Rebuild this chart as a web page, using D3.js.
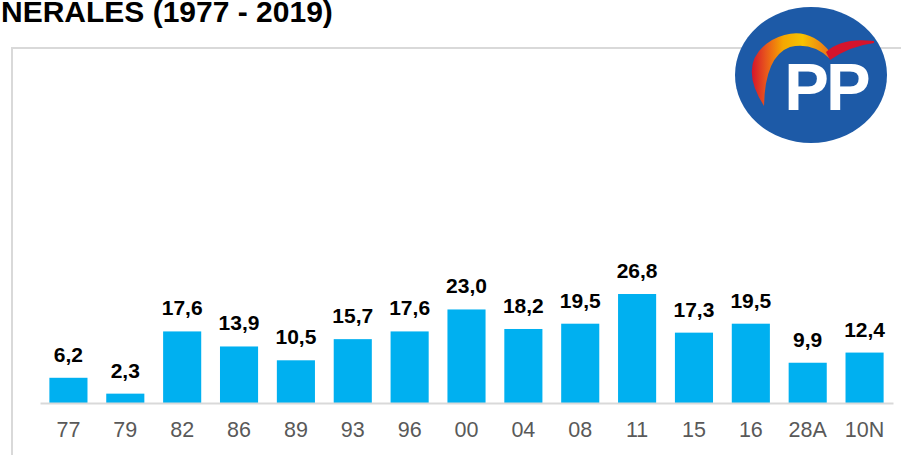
<!DOCTYPE html>
<html>
<head>
<meta charset="utf-8">
<script src="https://cdn.jsdelivr.net/npm/d3@7"></script>
<style>
  body { margin: 0; background: #fff; }
  svg { display: block; font-family: "Liberation Sans", Arial, sans-serif; }
</style>
</head>
<body>
<div class="canvas"></div>
<script>
// election years (general elections) and PP results
const years = ['77', '79', '82', '86', '89', '93', '96', '00', '04', '08', '11', '15', '16', '28A', '10N'];
const values = [6.2, 2.3, 17.6, 13.9, 10.5, 15.7, 17.6, 23.0, 18.2, 19.5, 26.8, 17.3, 19.5, 9.9, 12.4];

const dims = { width: 901, height: 455 };

const svg = d3.select('.canvas')
    .append('svg')
    .attr('width', dims.width)
    .attr('height', dims.height);

// title, starts at the left edge like the original slide
svg.append('text')
    .attr('x', 1)
    .attr('y', 22)
    .attr('font-size', '30px')
    .attr('font-weight', 'bold')
    .attr('fill', '#000')
    .text('NERALES (1977 - 2019)');

// chart frame
svg.append('rect')
    .attr('x', 12)
    .attr('y', 48)
    .attr('width', 950)
    .attr('height', 450)
    .attr('fill', 'none')
    .attr('stroke', '#d9d9d9')
    .attr('stroke-width', 2);

const x = d3.scaleBand()
    .domain(years)
    .range([40, 893])
    .paddingInner(0.33)
    .paddingOuter(0.165);

const y = d3.scaleLinear()
    .domain([0, 30])
    .range([403, 281]);

const fmt = v => d3.format('.1f')(v).replace('.', ',');

const data = years.map((yr, i) => ({ year: yr, value: values[i] }));

// bars
svg.append('g')
    .selectAll('rect')
    .data(data)
    .join('rect')
    .attr('x', d => x(d.year))
    .attr('y', d => y(d.value))
    .attr('width', x.bandwidth())
    .attr('height', d => y(0) - y(d.value))
    .attr('fill', '#00b0f0');

// value labels
svg.append('g')
    .selectAll('text')
    .data(data)
    .join('text')
    .attr('x', d => x(d.year) + x.bandwidth() / 2)
    .attr('y', d => y(d.value) - 16)
    .attr('text-anchor', 'middle')
    .attr('font-size', '21px')
    .attr('font-weight', 'bold')
    .attr('fill', '#000')
    .text(d => fmt(d.value));

// x axis
const xAxis = svg.append('g')
    .attr('transform', `translate(0, ${y(0)})`)
    .call(d3.axisBottom(x).tickSize(0).tickPadding(19));

xAxis.select('.domain')
    .attr('stroke', '#d9d9d9')
    .attr('stroke-width', 2);

xAxis.selectAll('text')
    .attr('font-family', '"Liberation Sans", Arial, sans-serif')
    .attr('font-size', '21.5px')
    .attr('fill', '#595959');

// PP logo
const logo = svg.append('g');

const defs = svg.append('defs');
const grad = defs.append('linearGradient')
    .attr('id', 'swoosh')
    .attr('x1', '0%').attr('y1', '0%')
    .attr('x2', '100%').attr('y2', '0%');
grad.append('stop').attr('offset', '0%').attr('stop-color', '#d5142c');
grad.append('stop').attr('offset', '18%').attr('stop-color', '#e8561c');
grad.append('stop').attr('offset', '40%').attr('stop-color', '#f5a700');
grad.append('stop').attr('offset', '65%').attr('stop-color', '#f7c200');
grad.append('stop').attr('offset', '100%').attr('stop-color', '#e9711a');

logo.append('ellipse')
    .attr('cx', 811)
    .attr('cy', 75)
    .attr('rx', 76)
    .attr('ry', 68)
    .attr('fill', '#1d5aa7');

logo.append('path')
    .attr('d', 'M764,106 Q736,62 772,40 Q806,22 830,52 L829,58 Q812,42 790,47 Q765,56 764,106 Z')
    .attr('fill', 'url(#swoosh)');

logo.append('path')
    .attr('d', 'M826,52 Q842,37 874,41 L874,43 Q850,46 830,60 Z')
    .attr('fill', '#d5142c');

logo.append('text')
    .attr('x', 826)
    .attr('y', 110)
    .attr('text-anchor', 'middle')
    .attr('font-size', '67px')
    .attr('font-weight', 'bold')
    .attr('letter-spacing', '-3px')
    .attr('fill', '#fff')
    .text('PP');
</script>
</body>
</html>
